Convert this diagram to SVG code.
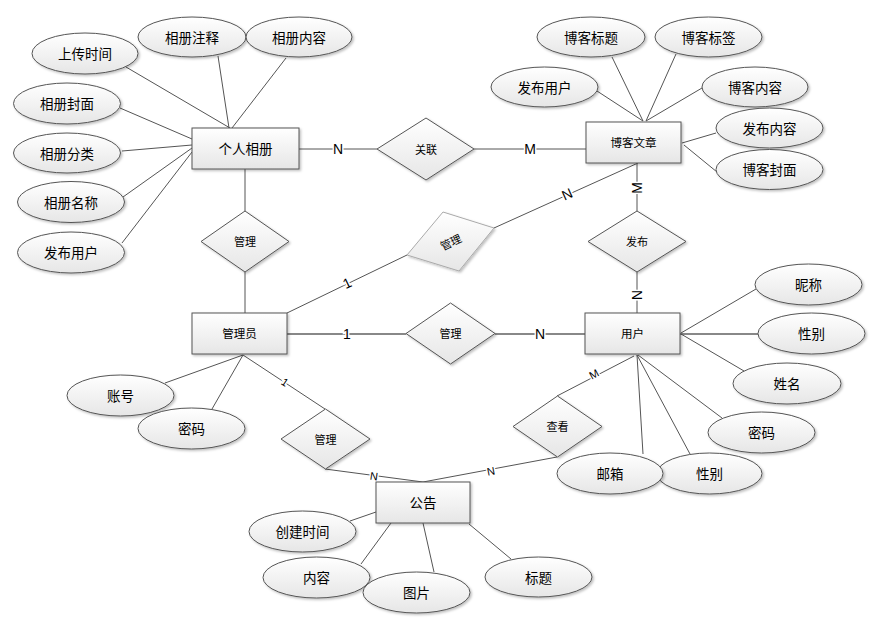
<svg xmlns="http://www.w3.org/2000/svg" width="893" height="627" viewBox="0 0 893 627">
<defs>
<linearGradient id="g" x1="0" y1="0" x2="0" y2="1">
<stop offset="0" stop-color="#ffffff"/>
<stop offset="1" stop-color="#e6e6e6"/>
</linearGradient>
<filter id="sh" x="-20%" y="-20%" width="150%" height="160%">
<feDropShadow dx="1.5" dy="1.5" stdDeviation="1" flood-color="#000" flood-opacity="0.25"/>
</filter>
<style>
.e,.r,.d{fill:url(#g);stroke:#555;stroke-width:1;filter:url(#sh)}
.d2{fill:url(#g);stroke:#aaa;stroke-width:1;filter:url(#sh)}
.t{font-family:"Noto Sans CJK SC","Noto Sans",sans-serif;font-size:13.5px;fill:#000;text-anchor:middle;dominant-baseline:central}
.s{font-size:11.5px}
.ds{font-size:11px}
.c line{stroke:#555;stroke-width:1}
.c line.k{stroke:#888;stroke-width:2}
.l{font-family:"Liberation Sans",Arial,sans-serif;font-size:14px;fill:#000;text-anchor:middle;dominant-baseline:central;paint-order:stroke;stroke:#fff;stroke-width:3px}
.ls{font-size:11px}
</style>
</defs>
<rect width="893" height="627" fill="#fff"/>

<g id="connectors" class="c">
<line x1="126" y1="67" x2="230" y2="128"/>
<line x1="218" y1="56" x2="229" y2="128"/>
<line x1="286" y1="58" x2="232" y2="128"/>
<line x1="120" y1="108" x2="192" y2="139"/>
<line x1="122" y1="151" x2="192" y2="145"/>
<line x1="123" y1="197" x2="192" y2="148"/>
<line x1="122" y1="243" x2="192" y2="152"/>
<line x1="299" y1="149" x2="377" y2="149"/>
<line x1="474" y1="149" x2="586" y2="149"/>
<line x1="245" y1="169" x2="245" y2="211"/>
<line x1="245" y1="272" x2="245" y2="313"/>
<line x1="612" y1="57" x2="643" y2="121"/>
<line x1="676" y1="54" x2="646" y2="121"/>
<line x1="597" y1="91" x2="643" y2="121"/>
<line x1="702" y1="88" x2="646" y2="121"/>
<line x1="716" y1="133" x2="682" y2="143"/>
<line x1="684" y1="145" x2="717" y2="172"/>
<line x1="637" y1="163" x2="637" y2="211"/>
<line x1="637" y1="272" x2="637" y2="313"/>
<line x1="287" y1="313" x2="407" y2="255"/>
<line x1="494" y1="228" x2="638" y2="163"/>
<line class="k" x1="287" y1="334" x2="406" y2="334"/>
<line class="k" x1="495" y1="334" x2="585" y2="334"/>
<line x1="681" y1="333" x2="756" y2="289"/>
<line class="k" x1="680" y1="334" x2="758" y2="334"/>
<line x1="681" y1="334" x2="744" y2="371"/>
<line x1="638" y1="355" x2="722" y2="418"/>
<line x1="637" y1="355" x2="643" y2="454"/>
<line x1="637" y1="355" x2="690" y2="454"/>
<line x1="634" y1="356" x2="557" y2="396"/>
<line x1="557" y1="457" x2="423" y2="482"/>
<line x1="165" y1="383" x2="243" y2="355"/>
<line x1="212" y1="409" x2="243" y2="355"/>
<line x1="243" y1="355" x2="325" y2="409"/>
<line x1="325" y1="469" x2="423" y2="482"/>
<line x1="350" y1="521" x2="376" y2="512"/>
<line x1="361" y1="564" x2="391" y2="523"/>
<line x1="434" y1="572" x2="423" y2="523"/>
<line x1="469" y1="524" x2="511" y2="559"/>
<text class="l" x="338" y="149">N</text>
<text class="l" x="530" y="149">M</text>
<text class="l" transform="translate(637,188) rotate(-90)">M</text>
<text class="l" transform="translate(637,295) rotate(90)">N</text>
<text class="l" transform="translate(567,194) rotate(-24)">N</text>
<text class="l" transform="translate(347,283) rotate(-26)">1</text>
<text class="l" x="347" y="334">1</text>
<text class="l" x="540" y="334">N</text>
<text class="l ls" transform="translate(285,382) rotate(33)">1</text>
<text class="l ls" transform="translate(374,476) rotate(8)">N</text>
<text class="l ls" transform="translate(594,374) rotate(-28)">M</text>
<text class="l ls" transform="translate(491,471) rotate(-11)">N</text>
</g>

<g id="album">
<rect class="r" x="192" y="128" width="107" height="41"/>
<text class="t" x="245.5" y="148">个人相册</text>
</g>
<g id="album-time"><ellipse class="e" cx="85" cy="53.5" rx="53" ry="20.5"/><text class="t" x="85" y="53">上传时间</text></g>
<g id="album-note"><ellipse class="e" cx="192" cy="37" rx="54" ry="20"/><text class="t" x="192" y="36.5">相册注释</text></g>
<g id="album-content"><ellipse class="e" cx="299" cy="37" rx="53" ry="20"/><text class="t" x="299" y="36.5">相册内容</text></g>
<g id="album-cover"><ellipse class="e" cx="67" cy="103.5" rx="53.5" ry="20.5"/><text class="t" x="67" y="103">相册封面</text></g>
<g id="album-category"><ellipse class="e" cx="67" cy="153" rx="53.5" ry="20"/><text class="t" x="67" y="152.5">相册分类</text></g>
<g id="album-name"><ellipse class="e" cx="71" cy="202" rx="53.5" ry="20.5"/><text class="t" x="71" y="201.5">相册名称</text></g>
<g id="album-user"><ellipse class="e" cx="71" cy="252.5" rx="53.5" ry="20.5"/><text class="t" x="71" y="252">发布用户</text></g>

<g id="rel-link">
<polygon class="d" points="426,118 474,149 426,180 377,149"/>
<text class="t ds" x="426" y="149">关联</text>
</g>

<g id="blog">
<rect class="r" x="586" y="122" width="95" height="41"/>
<text class="t s" x="633.5" y="142">博客文章</text>
</g>
<g id="blog-title"><ellipse class="e" cx="591" cy="37" rx="54" ry="20"/><text class="t" x="591" y="36.5">博客标题</text></g>
<g id="blog-tag"><ellipse class="e" cx="708.5" cy="37" rx="53.5" ry="20"/><text class="t" x="708.5" y="36.5">博客标签</text></g>
<g id="blog-user"><ellipse class="e" cx="544.5" cy="87" rx="53.5" ry="20"/><text class="t" x="544.5" y="86.5">发布用户</text></g>
<g id="blog-content"><ellipse class="e" cx="755" cy="87" rx="53" ry="20"/><text class="t" x="755" y="86.5">博客内容</text></g>
<g id="blog-publish"><ellipse class="e" cx="769.5" cy="128" rx="53.5" ry="20"/><text class="t" x="769.5" y="127.5">发布内容</text></g>
<g id="blog-cover"><ellipse class="e" cx="769.5" cy="169.5" rx="53.5" ry="20"/><text class="t" x="769.5" y="169">博客封面</text></g>

<g id="rel-manage-album">
<polygon class="d" points="245,211 289,241.5 245,272 201,241.5"/>
<text class="t ds" x="245" y="241">管理</text>
</g>

<g id="rel-manage-blog">
<polygon class="d2" points="443,212 494,228 459,271 407,255"/>
<text class="t ds" transform="translate(450.5,241.5) rotate(-25)">管理</text>
</g>

<g id="rel-publish">
<polygon class="d" points="637,211 686,241.5 637,272 588,241.5"/>
<text class="t ds" x="637" y="241">发布</text>
</g>

<g id="admin">
<rect class="r" x="192" y="313" width="95" height="41"/>
<text class="t s" x="239.5" y="333">管理员</text>
</g>
<g id="admin-account"><ellipse class="e" cx="120.5" cy="395.5" rx="53.5" ry="20.5"/><text class="t" x="120.5" y="395">账号</text></g>
<g id="admin-password"><ellipse class="e" cx="191.5" cy="428.5" rx="53.5" ry="20.5"/><text class="t" x="191.5" y="428">密码</text></g>

<g id="rel-manage-user">
<polygon class="d" points="450.5,303 495,333.5 450.5,364 406,333.5"/>
<text class="t ds" x="450.5" y="333">管理</text>
</g>

<g id="user">
<rect class="r" x="585" y="313" width="95" height="41"/>
<text class="t s" x="632.5" y="333">用户</text>
</g>
<g id="user-nick"><ellipse class="e" cx="808.5" cy="284.5" rx="53.5" ry="20.5"/><text class="t" x="808.5" y="284">昵称</text></g>
<g id="user-gender"><ellipse class="e" cx="811.5" cy="333.5" rx="53.5" ry="20.5"/><text class="t" x="811.5" y="333">性别</text></g>
<g id="user-name"><ellipse class="e" cx="787" cy="383.5" rx="54" ry="20.5"/><text class="t" x="787" y="383">姓名</text></g>
<g id="user-password"><ellipse class="e" cx="761.5" cy="432.5" rx="53.5" ry="20.5"/><text class="t" x="761.5" y="432">密码</text></g>
<g id="user-gender2"><ellipse class="e" cx="709.5" cy="473.5" rx="52.5" ry="20.5"/><text class="t" x="709.5" y="473">性别</text></g>
<g id="user-email"><ellipse class="e" cx="610" cy="473.5" rx="53" ry="20.5"/><text class="t" x="610" y="473">邮箱</text></g>

<g id="rel-view">
<polygon class="d" points="557.5,396 602,426.5 557.5,457 513,426.5"/>
<text class="t ds" x="557.5" y="426">查看</text>
</g>

<g id="rel-manage-notice">
<polygon class="d" points="325.5,409 370,439 325.5,469 281,439"/>
<text class="t ds" x="325.5" y="438.5">管理</text>
</g>

<g id="notice">
<rect class="r" x="376" y="482" width="94" height="41"/>
<text class="t" x="423" y="502">公告</text>
</g>
<g id="notice-time"><ellipse class="e" cx="302.5" cy="531.5" rx="53.5" ry="20.5"/><text class="t" x="302.5" y="531">创建时间</text></g>
<g id="notice-content"><ellipse class="e" cx="316.5" cy="577.5" rx="53.5" ry="20.5"/><text class="t" x="316.5" y="577">内容</text></g>
<g id="notice-image"><ellipse class="e" cx="416.5" cy="592.5" rx="53.5" ry="20.5"/><text class="t" x="416.5" y="592">图片</text></g>
<g id="notice-title"><ellipse class="e" cx="538.5" cy="577" rx="53.5" ry="20"/><text class="t" x="538.5" y="576.5">标题</text></g>
</svg>
